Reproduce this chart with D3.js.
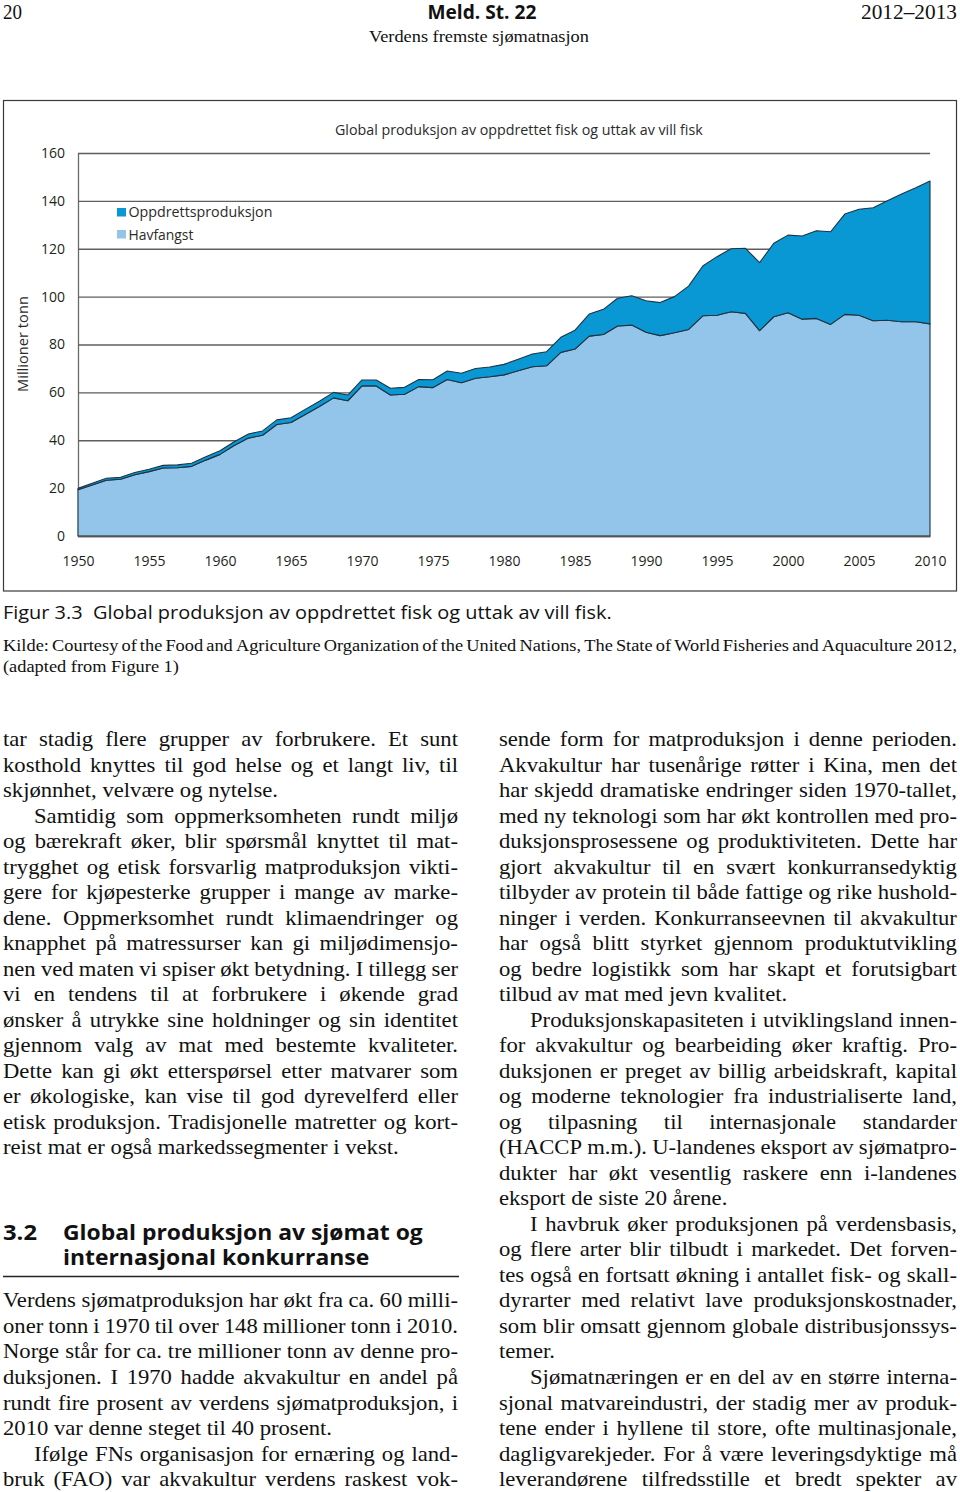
<!DOCTYPE html>
<html><head><meta charset="utf-8">
<script src="https://cdn.jsdelivr.net/npm/d3@7"></script>
<style>body{margin:0;background:#fff}svg{display:block}</style>
</head><body>
<svg id="page" width="960" height="1492"></svg>
<script>
// ---------------- DATA ----------------
const years = [1950,1951,1952,1953,1954,1955,1956,1957,1958,1959,1960,1961,1962,1963,1964,1965,1966,1967,1968,1969,
  1970,1971,1972,1973,1974,1975,1976,1977,1978,1979,1980,1981,1982,1983,1984,1985,1986,1987,1988,1989,
  1990,1991,1992,1993,1994,1995,1996,1997,1998,1999,2000,2001,2002,2003,2004,2005,2006,2007,2008,2009,2010];
// Havfangst (capture), million tonnes
const havfangst = [19.3,21.3,23.3,23.7,25.6,26.9,28.4,28.5,29.1,31.7,34.1,37.8,40.9,42.1,46.6,47.4,50.8,54.1,57.7,56.5,
  62.7,62.7,58.9,59.2,62.4,62.0,65.4,64.0,65.9,66.5,67.3,69.0,70.7,71.1,76.7,78.1,83.5,84.2,87.7,88.1,
  85.1,83.7,84.9,86.3,92.0,92.2,93.7,93.0,85.8,91.6,93.3,90.6,90.9,88.4,92.6,92.2,89.9,90.1,89.5,89.5,88.6];
// Oppdrettsproduksjon (aquaculture), million tonnes
const oppdrett = [0.6,0.7,0.8,0.8,0.9,1.0,1.1,1.2,1.3,1.4,1.5,1.6,1.7,1.8,1.9,2.0,2.1,2.2,2.3,2.4,
  2.5,2.5,2.8,2.9,3.0,3.3,3.5,4.0,4.1,4.1,4.4,4.8,5.3,5.9,6.3,7.9,9.2,10.5,11.6,12.3,
  13.2,13.8,15.1,18.1,20.8,24.5,26.3,27.2,28.4,30.7,32.4,34.7,36.6,38.7,41.9,44.3,47.2,50.0,53.4,56.0,59.7];
const seriesNames = ["Oppdrettsproduksjon", "Havfangst"];
const yTicks = [0,20,40,60,80,100,120,140,160];
const xTicks = [1950,1955,1960,1965,1970,1975,1980,1985,1990,1995,2000,2005,2010];
const chartTitle = "Global produksjon av oppdrettet fisk og uttak av vill fisk";
const yAxisLabel = "Millioner tonn";

// ---------------- TEXT ----------------
const headerLeft = "20", headerCenter = "Meld. St. 22", headerRight = "2012\u20132013";
const headerSub = "Verdens fremste sjømatnasjon";
const captionTitle = "Figur 3.3\u00a0\u00a0Global produksjon av oppdrettet fisk og uttak av vill fisk.";
const captionSource = ["Kilde: Courtesy of the Food and Agriculture Organization of the United Nations, The State of World Fisheries and Aquaculture 2012,",
  "(adapted from Figure 1)"];
const headingNum = "3.2";
const headingLines = ["Global produksjon av sjømat og", "internasjonal konkurranse"];
// [text, indent, paragraphEnd, slot]
const leftCol = [
  ["tar stadig flere grupper av forbrukere. Et sunt",0,0,0],
  ["kosthold knyttes til god helse og et langt liv, til",0,0,1],
  ["skjønnhet, velvære og nytelse.",0,1,2],
  ["Samtidig som oppmerksomheten rundt miljø",1,0,3],
  ["og bærekraft øker, blir spørsmål knyttet til mat-",0,0,4],
  ["trygghet og etisk forsvarlig matproduksjon vikti-",0,0,5],
  ["gere for kjøpesterke grupper i mange av marke-",0,0,6],
  ["dene. Oppmerksomhet rundt klimaendringer og",0,0,7],
  ["knapphet på matressurser kan gi miljødimensjo-",0,0,8],
  ["nen ved maten vi spiser økt betydning. I tillegg ser",0,0,9],
  ["vi en tendens til at forbrukere i økende grad",0,0,10],
  ["ønsker å utrykke sine holdninger og sin identitet",0,0,11],
  ["gjennom valg av mat med bestemte kvaliteter.",0,0,12],
  ["Dette kan gi økt etterspørsel etter matvarer som",0,0,13],
  ["er økologiske, kan vise til god dyrevelferd eller",0,0,14],
  ["etisk produksjon. Tradisjonelle matretter og kort-",0,0,15],
  ["reist mat er også markedssegmenter i vekst.",0,1,16],
  ["Verdens sjømatproduksjon har økt fra ca. 60 milli-",0,0,22],
  ["oner tonn i 1970 til over 148 millioner tonn i 2010.",0,0,23],
  ["Norge står for ca. tre millioner tonn av denne pro-",0,0,24],
  ["duksjonen. I 1970 hadde akvakultur en andel på",0,0,25],
  ["rundt fire prosent av verdens sjømatproduksjon, i",0,0,26],
  ["2010 var denne steget til 40 prosent.",0,1,27],
  ["Ifølge FNs organisasjon for ernæring og land-",1,0,28],
  ["bruk (FAO) var akvakultur verdens raskest vok-",0,0,29]
];
const rightCol = [
  ["sende form for matproduksjon i denne perioden.",0,0,0],
  ["Akvakultur har tusenårige røtter i Kina, men det",0,0,1],
  ["har skjedd dramatiske endringer siden 1970-tallet,",0,0,2],
  ["med ny teknologi som har økt kontrollen med pro-",0,0,3],
  ["duksjonsprosessene og produktiviteten. Dette har",0,0,4],
  ["gjort akvakultur til en svært konkurransedyktig",0,0,5],
  ["tilbyder av protein til både fattige og rike hushold-",0,0,6],
  ["ninger i verden. Konkurranseevnen til akvakultur",0,0,7],
  ["har også blitt styrket gjennom produktutvikling",0,0,8],
  ["og bedre logistikk som har skapt et forutsigbart",0,0,9],
  ["tilbud av mat med jevn kvalitet.",0,1,10],
  ["Produksjonskapasiteten i utviklingsland innen-",1,0,11],
  ["for akvakultur og bearbeiding øker kraftig. Pro-",0,0,12],
  ["duksjonen er preget av billig arbeidskraft, kapital",0,0,13],
  ["og moderne teknologier fra industrialiserte land,",0,0,14],
  ["og tilpasning til internasjonale standarder",0,0,15],
  ["(HACCP m.m.). U-landenes eksport av sjømatpro-",0,0,16],
  ["dukter har økt vesentlig raskere enn i-landenes",0,0,17],
  ["eksport de siste 20 årene.",0,1,18],
  ["I havbruk øker produksjonen på verdensbasis,",1,0,19],
  ["og flere arter blir tilbudt i markedet. Det forven-",0,0,20],
  ["tes også en fortsatt økning i antallet fisk- og skall-",0,0,21],
  ["dyrarter med relativt lave produksjonskostnader,",0,0,22],
  ["som blir omsatt gjennom globale distribusjonssys-",0,0,23],
  ["temer.",0,1,24],
  ["Sjømatnæringen er en del av en større interna-",1,0,25],
  ["sjonal matvareindustri, der stadig mer av produk-",0,0,26],
  ["tene ender i hyllene til store, ofte multinasjonale,",0,0,27],
  ["dagligvarekjeder. For å være leveringsdyktige må",0,0,28],
  ["leverandørene tilfredsstille et bredt spekter av",0,0,29]
];

// ---------------- HELPERS ----------------
const svg = d3.select("#page");
const SERIF = "'Liberation Serif','DejaVu Serif',serif";
const SANS = "'Open Sans','Noto Sans',sans-serif";
const meas = svg.append("text").attr("x",-1000).attr("y",-1000).style("white-space","pre");
function measure(str, font, size, weight){
  meas.attr("font-family",font).attr("font-size",size).attr("font-weight",weight||"normal").text(str);
  return meas.node().getComputedTextLength();
}
function fitText(parent, str, o){
  const nat = measure(str, o.font, o.size, o.weight);
  const s = o.w ? o.w/nat : 1;
  const width = nat*s;
  const g = parent.append("g");
  let tr;
  if (o.rotate){
    tr = `translate(${o.x},${o.y}) rotate(-90) translate(${-width/2},0) scale(${s},1)`;
  } else {
    const x0 = o.anchor==="middle" ? o.x-width/2 : o.anchor==="end" ? o.x-width : o.x;
    tr = `translate(${x0},${o.y}) scale(${s},1)`;
  }
  g.attr("transform", tr).append("text")
    .attr("font-family",o.font).attr("font-size",o.size).attr("font-weight",o.weight||"normal")
    .attr("fill",o.fill||"#000").style("white-space","pre").text(str);
  return g;
}
function bodyLine(parent, str, x, y, W, size, c, justify, font, weight){
  font = font||SERIF;
  const words = str.split(" ");
  const ws = words.map(w=>measure(w,font,size,weight));
  const sum = d3.sum(ws);
  const sp = measure("a a",font,size,weight)-measure("aa",font,size,weight);
  const n = words.length;
  let cl = c, gap = sp;
  if (justify && n>1){
    gap = (W/c - sum)/(n-1);
    if (gap < 0.6*sp){ gap = 0.6*sp; cl = W/(sum+gap*(n-1)); }
  } else {
    const tot = sum + sp*(n-1);
    if (tot*c > W) cl = W/tot;
  }
  const g = parent.append("g").attr("transform",`translate(${x},${y}) scale(${cl},1)`);
  const t = g.append("text").attr("font-family",font).attr("font-size",size)
    .attr("font-weight",weight||"normal").attr("fill","#111");
  let cx = 0;
  words.forEach((w,i)=>{
    t.append("tspan").attr("x",cx).text(w);
    cx += ws[i] + gap;
  });
}

// ---------------- HEADER ----------------
fitText(svg, headerLeft, {x:3,y:19,font:SERIF,size:21,w:19,fill:"#111"});
fitText(svg, headerCenter, {x:482,y:19,anchor:"middle",font:SANS,size:19,weight:"bold",w:109,fill:"#111"});
fitText(svg, headerRight, {x:957,y:19,anchor:"end",font:SERIF,size:21,w:96,fill:"#111"});
fitText(svg, headerSub, {x:479,y:42,anchor:"middle",font:SERIF,size:17,w:220,fill:"#111"});

// ---------------- CHART ----------------
svg.append("rect").attr("x",3.5).attr("y",100.5).attr("width",953).attr("height",490.5)
  .attr("fill","none").attr("stroke","#3a3a3a").attr("stroke-width",1.2);

const x = d3.scaleLinear().domain([1950,2010]).range([78,930]);
const y = d3.scaleLinear().domain([0,160]).range([536,153]);

const gy = svg.append("g").attr("transform","translate(78,0)")
  .call(d3.axisLeft(y).tickValues(yTicks).tickSize(-852).tickSizeOuter(0).tickPadding(13).tickFormat(d3.format("d")));
gy.select(".domain").attr("stroke","#6b6b6b").attr("stroke-width",1.3);
gy.selectAll(".tick line").attr("stroke","#5e5e5e").attr("stroke-width",1.3);
gy.selectAll(".tick text").attr("font-family",SANS).attr("font-size",14).attr("fill","#231f20");

const rows = years.map((yr,i)=>({year:yr, hav:havfangst[i], opp:oppdrett[i]}));
const stack = d3.stack().keys(["hav","opp"])(rows);
const colors = {hav:"#93c4ea", opp:"#0a98d5"};
const area = d3.area().x(d=>x(d.data.year)).y0(d=>y(d[0])).y1(d=>y(d[1]));
svg.append("g").selectAll("path").data(stack).join("path")
  .attr("d",area).attr("fill",d=>colors[d.key])
  .attr("stroke","#1e3442").attr("stroke-width",1.1).attr("stroke-linejoin","round");

const gx = svg.append("g").attr("transform","translate(0,536)")
  .call(d3.axisBottom(x).tickValues(xTicks).tickSize(0).tickSizeOuter(0).tickPadding(20).tickFormat(d3.format("d")));
gx.select(".domain").attr("stroke","#555").attr("stroke-width",1.3);
gx.selectAll(".tick text").attr("font-family",SANS).attr("font-size",14).attr("fill","#231f20");

fitText(svg, chartTitle, {x:519,y:135,anchor:"middle",font:SANS,size:14,w:368,fill:"#2b2b2b"});
fitText(svg, yAxisLabel, {x:28,y:344,rotate:true,font:SANS,size:14,w:96,fill:"#2b2b2b"});

const legend = svg.append("g");
const legendItems = [{name:seriesNames[0],key:"opp",y:208,ty:217,w:144},{name:seriesNames[1],key:"hav",y:230,ty:240,w:65}];
legendItems.forEach(it=>{
  legend.append("rect").attr("x",117).attr("y",it.y).attr("width",9).attr("height",8.5).attr("fill",colors[it.key]);
  fitText(legend, it.name, {x:128.5,y:it.ty,font:SANS,size:14,w:it.w,fill:"#2b2b2b"});
});

// ---------------- CAPTION ----------------
fitText(svg, captionTitle, {x:3,y:619,font:SANS,size:19,w:609,fill:"#111"});
const cKilde = 176 / measure(captionSource[1], SERIF, 16);
bodyLine(svg, captionSource[0], 3, 651, 954, 16, cKilde, true);
fitText(svg, captionSource[1], {x:3,y:672,font:SERIF,size:16,w:176,fill:"#111"});

// ---------------- BODY ----------------
const BODY_SIZE = 22;
const calib = [["skjønnhet, velvære og nytelse.",272],["reist mat er også markedssegmenter i vekst.",404],
  ["2010 var denne steget til 40 prosent.",326],["tilbud av mat med jevn kvalitet.",282],["eksport de siste 20 årene.",233]];
const cBody = d3.mean(calib, ([s,w]) => w / measure(s, SERIF, BODY_SIZE));
const base0 = 746, lh = 25.52, indent = 31;
function drawColumn(lines, x0, W){
  lines.forEach(([t,ind,end,slot])=>{
    const xx = x0 + (ind?indent:0), ww = W - (ind?indent:0);
    bodyLine(svg, t, xx, base0 + slot*lh, ww, BODY_SIZE, cBody, !end);
  });
}
drawColumn(leftCol, 3, 455);
drawColumn(rightCol, 499, 458);

// heading (number + two-line title in one text block)
fitText(svg, headingNum, {x:3,y:1240,font:SANS,size:22,weight:"bold",w:34,fill:"#111"});
const hs = 360 / measure(headingLines[0], SANS, 22, "bold");
const hText = svg.append("g").attr("transform",`translate(63,1240) scale(${hs},1)`)
  .append("text").attr("font-family",SANS).attr("font-size",22).attr("font-weight","bold").attr("fill","#111");
headingLines.forEach((l,i)=>hText.append("tspan").attr("x",0).attr("y",i*25).text(l));
svg.append("line").attr("x1",3).attr("x2",459).attr("y1",1276.5).attr("y2",1276.5)
  .attr("stroke","#222").attr("stroke-width",1.3);
meas.remove();
</script>
</body></html>
